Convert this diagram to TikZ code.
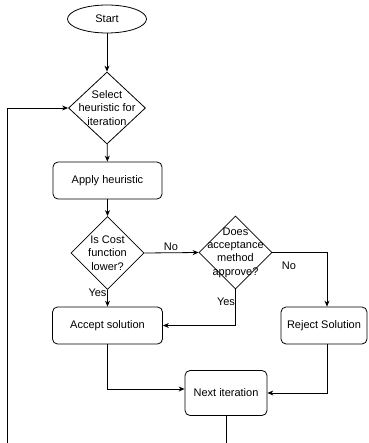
\documentclass[tikz,border=0pt]{standalone}
\usepackage{fontspec}
\setmainfont{Liberation Sans}
\usetikzlibrary{shapes.geometric,arrows.meta}
\begin{document}
\begin{tikzpicture}[x=1pt,y=1pt,
  every node/.style={font=\fontsize{11}{13.4}\selectfont},
  box/.style={draw,rounded corners=5pt,line width=0.8pt,inner sep=0pt},
  dec/.style={draw,diamond,line width=0.8pt,inner sep=0pt,minimum width=#1,minimum height=#1},
  dtext/.style={align=center,font=\fontsize{11}{13.4}\selectfont},
  lbl/.style={inner sep=1pt},
  arr/.style={line width=0.8pt,-{Stealth[length=6pt,width=5pt]}},
  ln/.style={line width=0.8pt}]
\useasboundingbox (0,0) rectangle (368,-443);
\fill[white] (0,0) rectangle (368,-443);
\node[draw,ellipse,line width=0.8pt,minimum width=79pt,minimum height=28pt,inner sep=0pt] (start) at (107,-19) {Start};
\node[dec=75pt,minimum width=77pt,minimum height=72pt,label={[dtext]center:Select\\heuristic for\\iteration}] (sel) at (107,-108) {};
\node[box,minimum width=109pt,minimum height=37pt] (apply) at (107.5,-180.5) {Apply heuristic};
\node[dec=73pt,label={[dtext]center:Is Cost\\function\\lower?}] (cost) at (107.5,-253) {};
\node[dec=73pt,label={[dtext]center:Does\\acceptance\\method\\approve?}] (acc) at (235.5,-252.5) {};
\node[box,minimum width=110pt,minimum height=37pt] (accept) at (107.5,-325.5) {Accept solution};
\node[box,minimum width=86pt,minimum height=37pt] (reject) at (324,-325.5) {Reject Solution};
\node[box,minimum width=82pt,minimum height=45pt] (next) at (226,-393) {Next iteration};
\coordinate (b1) at (226.5,-444);
\coordinate (b2) at (7.5,-444);
\coordinate (b3) at (7.5,-108);
\draw[arr] (start) -- (sel);
\draw[arr] (sel) -- (apply);
\draw[arr] (apply) -- (cost);
\draw[arr] (cost.east) -- (acc.west);
\node[lbl] (no1) at (171,-247) {No};
\draw[arr] (acc.east) -| ([xshift=3pt]reject.north);
\node[lbl] (no2) at (289,-266) {No};
\draw[arr] (cost.south) -- (accept.north);
\node[lbl] (yes1) at (97.5,-293) {Yes};
\draw[arr] (acc.south) |- (accept.east);
\node[lbl] (yes2) at (226,-302) {Yes};
\draw[arr] (accept.south) |- ([yshift=4pt]next.west);
\draw[arr] ([xshift=3pt]reject.south) |- (next.east);
\draw[ln] ([xshift=0.5pt]next.south) -- (b1) -- (b2) -- (b3);
\draw[arr] (b3) -- (sel.west);
\end{tikzpicture}
\end{document}
